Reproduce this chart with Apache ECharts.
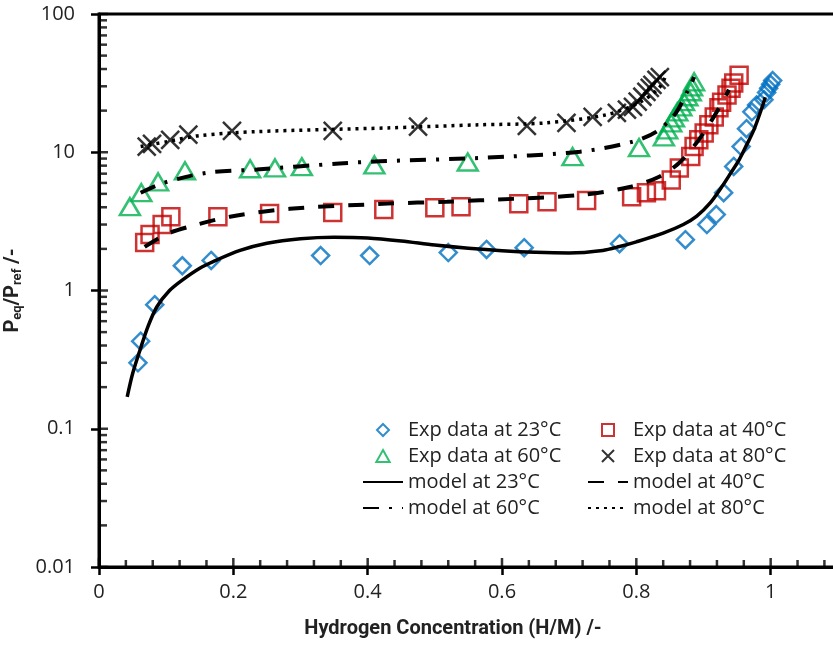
<!DOCTYPE html>
<html><head><meta charset="utf-8">
<script src="https://cdn.jsdelivr.net/npm/echarts@6/dist/echarts.min.js"></script>
<style>html,body{margin:0;padding:0;background:#fff}#c{width:833px;height:648px}</style>
</head><body><div id="c"></div>
<script>
const xTickLabels = ['0','0.2','0.4','0.6','0.8','1'];
const yTickLabels = ['0.01','0.1','1','10','100'];
const yDecades = [0.01, 0.1, 1, 10, 100];
const yMinorMultipliers = [2,3,4,5,6,7,8,9];
const xMinorStep = 0.04;
const xMajorStep = 0.2;

const exp23 = [[0.058,0.30],[0.062,0.43],[0.083,0.79],[0.124,1.51],[0.167,1.65],[0.33,1.79],[0.403,1.79],[0.52,1.88],[0.577,1.98],[0.633,2.04],[0.775,2.18],[0.873,2.33],[0.905,3.0],[0.919,3.54],[0.93,5.1],[0.945,7.9],[0.956,11],[0.964,14.8],[0.972,19.6],[0.979,22],[0.99,24],[0.994,27],[0.997,29],[1.0,31],[1.003,33]];
const exp40 = [[0.068,2.22],[0.076,2.54],[0.094,3.0],[0.107,3.42],[0.177,3.42],[0.254,3.6],[0.348,3.66],[0.424,3.85],[0.500,3.97],[0.539,4.04],[0.625,4.25],[0.667,4.39],[0.726,4.47],[0.793,4.77],[0.815,5.1],[0.830,5.27],[0.852,6.3],[0.864,7.7],[0.881,9.3],[0.886,11],[0.893,12.3],[0.901,13.8],[0.908,15.8],[0.916,18],[0.923,21],[0.927,23],[0.935,26],[0.941,29],[0.945,31.7],[0.953,36]];
const exp60 = [[0.046,4.04],[0.063,5.1],[0.088,6.1],[0.128,7.35],[0.225,7.6],[0.262,7.7],[0.302,7.86],[0.41,8.1],[0.549,8.5],[0.705,9.3],[0.804,10.8],[0.841,12.9],[0.846,14.5],[0.852,16.3],[0.856,17.7],[0.861,19.6],[0.867,21.3],[0.871,23.2],[0.876,25.2],[0.881,27.4],[0.883,29.7],[0.886,32.3]];
const exp80 = [[0.071,11],[0.079,11.5],[0.106,12.3],[0.133,13.4],[0.198,14.3],[0.348,14.3],[0.475,15.3],[0.637,15.5],[0.696,16.3],[0.735,18],[0.771,19.3],[0.786,20.3],[0.795,21.3],[0.802,23.2],[0.809,25.2],[0.815,27.3],[0.820,29.2],[0.824,30.7],[0.830,33.4],[0.835,35]];

const model23 = [[0.042,0.17],[0.05,0.25],[0.061,0.37],[0.073,0.55],[0.086,0.76],[0.105,1.0],[0.125,1.2],[0.15,1.45],[0.17,1.62],[0.21,1.95],[0.25,2.2],[0.3,2.37],[0.35,2.43],[0.4,2.4],[0.45,2.28],[0.5,2.13],[0.55,2.02],[0.6,1.94],[0.65,1.89],[0.7,1.87],[0.75,1.95],[0.775,2.08],[0.8,2.25],[0.84,2.6],[0.87,3.0],[0.89,3.45],[0.91,4.3],[0.927,5.6],[0.94,7.0],[0.953,8.8],[0.965,11.5],[0.975,14.5],[0.987,21],[0.992,25]];
const model40 = [[0.068,2.07],[0.10,2.55],[0.135,2.9],[0.195,3.42],[0.284,3.9],[0.43,4.25],[0.518,4.39],[0.616,4.6],[0.716,4.9],[0.79,5.6],[0.834,6.65],[0.864,8.4],[0.893,12.3],[0.919,19.3],[0.938,28.3]];
const model60 = [[0.062,5.1],[0.096,6.0],[0.16,7.1],[0.235,7.5],[0.358,8.3],[0.418,8.6],[0.567,9.1],[0.716,10.1],[0.794,11.9],[0.83,14.1],[0.859,19.3],[0.886,35]];
const model80 = [[0.062,11.0],[0.10,11.9],[0.15,13.2],[0.235,14.1],[0.43,15.0],[0.565,15.8],[0.665,16.3],[0.756,18.7],[0.804,22.8],[0.834,29.2],[0.844,36]];

// inside tick positions (drawn as small bar-shaped scatter symbols)
const xMajorIn = [], xMinorIn = [];
for (let i = 0; i <= 30; i++) (i % 5 === 0 ? xMajorIn : xMinorIn).push([+(i * xMinorStep).toFixed(2), 0.01]);
const yMajorIn = [], yMinorIn = [];
yDecades.forEach((d, j) => {
  yMajorIn.push([0, d]);
  if (j < yDecades.length - 1) yMinorMultipliers.forEach(k => yMinorIn.push([0, k * d]));
});

const FONT = 'Open Sans';
const TFONT = 'Roboto';
const TXT = '#222';
const chart = echarts.init(document.getElementById('c'), null, {renderer: 'canvas'});
const legendText = {fontFamily: FONT, fontSize: 20, color: TXT, lineHeight: 22};
const legendCommon = {orient: 'vertical', itemWidth: 40, itemHeight: 12, itemGap: 4, padding: 0, textStyle: legendText, selectedMode: false, symbolKeepAspect: true};
const ICON_DIAMOND = 'path://M5,0L10,5L5,10L0,5Z';
const ICON_SQUARE = 'path://M0,0L10,0L10,10L0,10Z';
const ICON_TRI = 'path://M5,0L10,9L0,9Z';
const ICON_CROSS = 'path://M0,0L10,10M10,0L0,10';
const noSym = {opacity: 0};
const tickSeries = (name, data, size, offset) => ({type: 'scatter', name, data, symbol: 'rect', symbolSize: size, symbolOffset: offset,
  itemStyle: {color: '#000'}, clip: false, silent: true, z: 6, emphasis: {disabled: true}, tooltip: {show: false}});

chart.setOption({
  animation: false,
  grid: {left: 99, top: 14, width: 806, height: 553, outerBoundsMode: 'none',
         show: true, borderColor: '#000', borderWidth: 3, backgroundColor: 'transparent'},
  legend: [
    Object.assign({left: 362, top: 419, data: [
      {name: 'Exp data at 23°C', icon: ICON_DIAMOND},
      {name: 'Exp data at 60°C', icon: ICON_TRI},
      {name: 'model at 23°C', itemStyle: noSym},
      {name: 'model at 60°C', itemStyle: noSym}]}, legendCommon),
    Object.assign({left: 587, top: 419, data: [
      {name: 'Exp data at 40°C', icon: ICON_SQUARE},
      {name: 'Exp data at 80°C', icon: ICON_CROSS},
      {name: 'model at 40°C', itemStyle: noSym},
      {name: 'model at 80°C', itemStyle: noSym}]}, legendCommon)
  ],
  xAxis: {type: 'value', min: 0, max: 1.2, interval: xMajorStep, position: 'bottom',
     axisLine: {show: true, onZero: false, lineStyle: {color: '#000', width: 3}},
     axisTick: {show: true, inside: false, length: 8, lineStyle: {color: '#000', width: 2.5}},
     splitLine: {show: false},
     axisLabel: {margin: 15, fontFamily: FONT, fontSize: 20, color: TXT,
       formatter: v => { const i = Math.round(v / xMajorStep); return (Math.abs(v - i * xMajorStep) < 1e-6 && i < xTickLabels.length) ? xTickLabels[i] : ''; }},
     name: 'Hydrogen Concentration (H/M) /-', nameLocation: 'middle', nameGap: 52,
     nameTextStyle: {fontFamily: TFONT, fontSize: 20, fontWeight: 'bold', color: TXT, padding: [0, 98, 0, 0]}},
  yAxis: {type: 'log', logBase: 10, min: 0.01, max: 100, position: 'left',
     axisLine: {show: true, onZero: false, lineStyle: {color: '#000', width: 3}},
     axisTick: {show: true, inside: false, length: 8, lineStyle: {color: '#000', width: 2.5}},
     splitLine: {show: false},
     axisLabel: {margin: 24, fontFamily: FONT, fontSize: 20, color: TXT,
       formatter: v => { const i = Math.round(Math.log10(v)) + 2; return yTickLabels[i] !== undefined ? yTickLabels[i] : ''; }},
     name: '{b|P}{s|eq}{b|/P}{s|ref}{b| /-}', nameLocation: 'middle', nameGap: 60, nameRotate: 90,
     nameTextStyle: {rich: {
       b: {fontFamily: TFONT, fontSize: 20, fontWeight: 'bold', color: TXT},
       s: {fontFamily: TFONT, fontSize: 13, fontWeight: 'bold', color: TXT, padding: [10, 0, 0, 0]}
     }}},
  series: [
    tickSeries('xMajorIn', xMajorIn, [2.5, 9], [0, -4.5]),
    tickSeries('xMinorIn', xMinorIn, [2.5, 7], [0, -3.5]),
    tickSeries('yMajorIn', yMajorIn, [9, 2.5], [4.5, 0]),
    tickSeries('yMinorIn', yMinorIn, [8, 2.5], [4, 0]),
    {type: 'line', name: 'model at 23°C', data: model23, symbol: 'none', smooth: 0.3, color: '#000',
     lineStyle: {color: '#000', width: 3.5, type: 'solid'}},
    {type: 'line', name: 'model at 40°C', data: model40, symbol: 'none', smooth: 0.3, color: '#000',
     lineStyle: {color: '#000', width: 4, type: [16, 14]}},
    {type: 'line', name: 'model at 60°C', data: model60, symbol: 'none', smooth: 0.3, color: '#000',
     lineStyle: {color: '#000', width: 4, type: [16, 10, 3, 10]}},
    {type: 'line', name: 'model at 80°C', data: model80, symbol: 'none', smooth: 0.3, color: '#000',
     lineStyle: {color: '#000', width: 3.5, type: [3, 5]}},
    {type: 'scatter', name: 'Exp data at 23°C', data: exp23, symbol: 'diamond', symbolSize: 17,
     itemStyle: {color: 'rgba(0,0,0,0)', borderColor: '#0070C0', borderWidth: 2.5}},
    {type: 'scatter', name: 'Exp data at 40°C', data: exp40, symbol: 'rect', symbolSize: 17,
     itemStyle: {color: 'rgba(0,0,0,0)', borderColor: '#C00000', borderWidth: 2.5}},
    {type: 'scatter', name: 'Exp data at 60°C', data: exp60, symbol: 'triangle', symbolSize: [20, 17],
     itemStyle: {color: 'rgba(0,0,0,0)', borderColor: '#00B050', borderWidth: 2.5}},
    {type: 'scatter', name: 'Exp data at 80°C', data: exp80, symbol: 'path://M0,0L20,20M20,0L0,20', symbolSize: 18,
     itemStyle: {color: '#000', borderColor: '#000', borderWidth: 2.5}}
  ]
});
</script></body></html>
